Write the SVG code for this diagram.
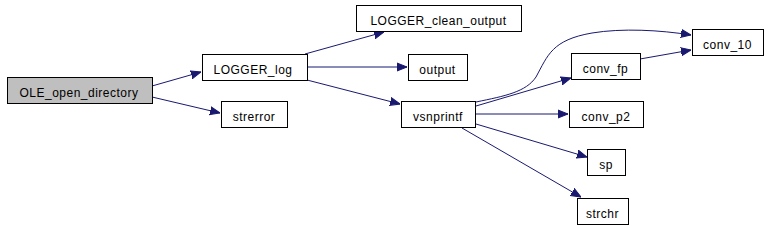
<svg xmlns="http://www.w3.org/2000/svg" width="770" height="226" viewBox="0 0 770 226">
<style>
.n rect{fill:#fff;stroke:#000;stroke-width:1}
.n.hl rect{fill:#bfbfbf}
.n text{font-family:"Liberation Sans",Arial,sans-serif;font-size:12px;letter-spacing:0.5px;fill:#000;text-anchor:middle}
.e path{fill:none;stroke:#191970;stroke-width:1}
</style>
<defs>
<marker id="a" viewBox="0 0 10 10" refX="10" refY="5" markerWidth="10" markerHeight="10" markerUnits="userSpaceOnUse" orient="auto">
<path d="M0,1 L10,5 L0,9 Z" fill="#191970" stroke="#191970"/>
</marker>
</defs>
<g class="e">
<path d="M152,86 L201,72" marker-end="url(#a)"/>
<path d="M152,97 L220,113" marker-end="url(#a)"/>
<path d="M305,54 L384,32" marker-end="url(#a)"/>
<path d="M307,67 L407,67" marker-end="url(#a)"/>
<path d="M307,80 L400,104" marker-end="url(#a)"/>
<path d="M476,102 C505,96 526,92 536,77 C548,55 552,40 592,33 C622,28 660,30 691,35" marker-end="url(#a)"/>
<path d="M476,106 L571,78" marker-end="url(#a)"/>
<path d="M640,59 L691,50" marker-end="url(#a)"/>
<path d="M476,114 L568,114" marker-end="url(#a)"/>
<path d="M476,124 L587,157" marker-end="url(#a)"/>
<path d="M462,128 L581,197" marker-end="url(#a)"/>
</g>
<g id="OLE_open_directory" class="n hl"><rect x="7.5" y="77.5" width="145" height="26"/><text x="79" y="96.5">OLE_open_directory</text></g>
<g id="LOGGER_log" class="n"><rect x="202.5" y="54.5" width="105" height="26"/><text x="253" y="73.5">LOGGER_log</text></g>
<g id="strerror" class="n"><rect x="221.5" y="101.5" width="66" height="26"/><text x="254" y="120.5">strerror</text></g>
<g id="LOGGER_clean_output" class="n"><rect x="356.5" y="5.5" width="165" height="26"/><text x="438.5" y="24.5">LOGGER_clean_output</text></g>
<g id="output" class="n"><rect x="408.5" y="54.5" width="59" height="26"/><text x="437.5" y="73.5">output</text></g>
<g id="vsnprintf" class="n"><rect x="401.5" y="101.5" width="74" height="26"/><text x="438" y="120.5">vsnprintf</text></g>
<g id="conv_10" class="n"><rect x="692.5" y="29.5" width="71" height="26"/><text x="727.5" y="48.5">conv_10</text></g>
<g id="conv_fp" class="n"><rect x="571.5" y="53.5" width="69" height="26"/><text x="605.5" y="72.5">conv_fp</text></g>
<g id="conv_p2" class="n"><rect x="569.5" y="101.5" width="74" height="26"/><text x="606" y="120.5">conv_p2</text></g>
<g id="sp" class="n"><rect x="587.5" y="149.5" width="38" height="26"/><text x="606" y="168.5">sp</text></g>
<g id="strchr" class="n"><rect x="577.5" y="198.5" width="51" height="26"/><text x="602.5" y="217.5">strchr</text></g>
</svg>
